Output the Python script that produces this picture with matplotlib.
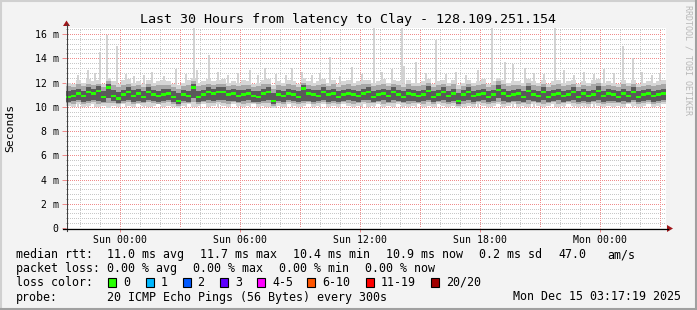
import numpy as np
import matplotlib
matplotlib.use("Agg")
import matplotlib.pyplot as plt
from matplotlib.lines import Line2D
from matplotlib.patches import Polygon, Rectangle

# ---------------- data (ms, 15-minute bins over 30 hours) ----------------
bin_hours = 0.25
median_ms = [
    10.8, 10.9, 11.1, 10.9, 11.2, 11.1, 11.3, 10.8, 11.6, 10.9,
    10.7, 11.0, 11.2, 10.9, 11.1, 10.8, 11.2, 11.0, 10.9, 11.0,
    11.1, 10.8, 10.5, 11.0, 10.9, 11.6, 10.8, 11.0, 11.2, 11.1,
    11.2, 11.2, 11.0, 11.1, 10.9, 11.0, 11.1, 10.9, 10.8, 11.1,
    11.2, 10.5, 11.0, 10.9, 11.1, 11.0, 10.8, 11.5, 11.1, 11.0,
    10.9, 11.2, 11.0, 11.1, 10.8, 11.0, 11.1, 11.0, 10.9, 11.1,
    11.2, 10.8, 11.0, 11.1, 10.9, 11.2, 11.0, 10.8, 11.1, 11.0,
    10.9, 11.0, 11.3, 10.8, 11.0, 11.2, 10.9, 11.1, 10.5, 11.0,
    11.2, 10.9, 11.0, 11.1, 10.8, 11.0, 11.4, 11.1, 10.9, 11.0,
    11.1, 10.8, 11.3, 11.0, 10.9, 11.2, 10.8, 11.0, 11.1, 10.9,
    11.0, 11.2, 10.8, 11.1, 10.9, 11.0, 11.3, 10.9, 11.1, 11.0,
    10.8, 11.1, 10.9, 11.2, 10.8, 11.0, 11.1, 10.9, 11.0, 11.1,
]
outer_lo_ms = [
    10.1, 10.0, 10.2, 10.0, 10.1, 10.2, 10.0, 10.1, 9.9, 10.1,
    10.0, 10.2, 10.1, 10.0, 10.2, 10.1, 10.0, 10.1, 10.2, 10.0,
    10.1, 10.0, 9.9, 10.1, 10.2, 10.0, 10.1, 10.2, 10.0, 10.1,
    10.2, 10.1, 10.0, 10.2, 10.1, 10.0, 10.1, 10.2, 10.0, 10.1,
    10.0, 9.9, 10.1, 10.0, 10.2, 10.1, 10.0, 10.1, 10.2, 10.0,
    10.1, 10.2, 10.0, 10.1, 10.0, 10.2, 10.1, 10.0, 10.1, 10.2,
    10.0, 10.1, 10.2, 10.0, 10.1, 10.0, 10.2, 10.1, 10.0, 10.1,
    10.2, 10.0, 10.1, 10.0, 10.2, 10.1, 10.0, 10.1, 9.9, 10.0,
    10.1, 10.0, 10.2, 10.1, 10.0, 10.1, 10.2, 10.0, 10.1, 10.2,
    10.0, 10.1, 10.0, 10.2, 10.1, 10.0, 10.1, 10.2, 10.0, 10.1,
    10.2, 10.1, 10.0, 10.1, 10.0, 10.2, 10.1, 10.0, 10.1, 10.0,
    10.1, 10.0, 10.2, 10.1, 10.0, 10.1, 10.2, 10.0, 10.1, 10.2,
]
mid_lo_ms = [
    10.3, 10.2, 10.4, 10.2, 10.3, 10.4, 10.2, 10.3, 10.3, 10.3,
    10.2, 10.3, 10.4, 10.2, 10.3, 10.3, 10.4, 10.3, 10.2, 10.3,
    10.4, 10.2, 10.1, 10.3, 10.3, 10.4, 10.2, 10.4, 10.3, 10.3,
    10.4, 10.3, 10.2, 10.4, 10.3, 10.2, 10.3, 10.3, 10.2, 10.3,
    10.3, 10.1, 10.3, 10.2, 10.4, 10.3, 10.2, 10.3, 10.4, 10.2,
    10.3, 10.4, 10.2, 10.3, 10.2, 10.4, 10.3, 10.2, 10.3, 10.4,
    10.3, 10.3, 10.4, 10.2, 10.3, 10.3, 10.4, 10.3, 10.2, 10.3,
    10.3, 10.2, 10.4, 10.2, 10.4, 10.3, 10.2, 10.3, 10.1, 10.2,
    10.3, 10.2, 10.4, 10.3, 10.2, 10.3, 10.4, 10.2, 10.3, 10.4,
    10.2, 10.3, 10.2, 10.4, 10.3, 10.2, 10.3, 10.4, 10.2, 10.3,
    10.4, 10.3, 10.2, 10.3, 10.2, 10.4, 10.3, 10.2, 10.3, 10.3,
    10.3, 10.2, 10.3, 10.4, 10.2, 10.3, 10.4, 10.2, 10.3, 10.4,
]
inner_lo_ms = [
    10.4, 10.5, 10.6, 10.4, 10.5, 10.6, 10.5, 10.4, 10.7, 10.5,
    10.3, 10.5, 10.6, 10.4, 10.5, 10.4, 10.6, 10.5, 10.4, 10.5,
    10.6, 10.4, 10.2, 10.5, 10.4, 10.7, 10.4, 10.5, 10.6, 10.5,
    10.6, 10.6, 10.5, 10.5, 10.4, 10.5, 10.6, 10.4, 10.4, 10.5,
    10.6, 10.2, 10.5, 10.4, 10.6, 10.5, 10.4, 10.5, 10.5, 10.4,
    10.5, 10.6, 10.4, 10.5, 10.4, 10.5, 10.6, 10.5, 10.4, 10.6,
    10.6, 10.4, 10.5, 10.6, 10.4, 10.6, 10.5, 10.4, 10.5, 10.5,
    10.4, 10.5, 10.6, 10.4, 10.5, 10.6, 10.4, 10.5, 10.2, 10.5,
    10.6, 10.4, 10.5, 10.6, 10.4, 10.5, 10.7, 10.5, 10.4, 10.5,
    10.5, 10.4, 10.6, 10.5, 10.4, 10.6, 10.4, 10.5, 10.6, 10.4,
    10.5, 10.6, 10.4, 10.5, 10.4, 10.5, 10.6, 10.4, 10.5, 10.5,
    10.4, 10.5, 10.4, 10.6, 10.4, 10.5, 10.6, 10.4, 10.5, 10.6,
]
inner_hi_ms = [
    11.3, 11.4, 11.5, 11.3, 11.6, 11.5, 11.7, 11.3, 11.9, 11.4,
    11.2, 11.4, 11.6, 11.4, 11.5, 11.3, 11.6, 11.4, 11.3, 11.5,
    11.5, 11.3, 11.1, 11.4, 11.3, 11.9, 11.3, 11.4, 11.6, 11.5,
    11.6, 11.6, 11.4, 11.5, 11.4, 11.4, 11.5, 11.3, 11.3, 11.5,
    11.6, 11.1, 11.4, 11.3, 11.5, 11.4, 11.3, 11.8, 11.5, 11.4,
    11.4, 11.6, 11.4, 11.5, 11.3, 11.4, 11.5, 11.4, 11.3, 11.5,
    11.6, 11.3, 11.4, 11.5, 11.4, 11.6, 11.4, 11.3, 11.5, 11.4,
    11.3, 11.4, 11.7, 11.3, 11.4, 11.6, 11.3, 11.5, 11.1, 11.4,
    11.6, 11.3, 11.4, 11.5, 11.3, 11.4, 11.8, 11.5, 11.3, 11.4,
    11.5, 11.3, 11.7, 11.4, 11.3, 11.6, 11.3, 11.4, 11.5, 11.3,
    11.4, 11.6, 11.3, 11.5, 11.3, 11.4, 11.7, 11.3, 11.5, 11.4,
    11.3, 11.5, 11.3, 11.6, 11.3, 11.4, 11.5, 11.3, 11.4, 11.5,
]
mid_hi_ms = [
    11.7, 11.6, 11.9, 11.7, 11.9, 11.8, 11.9, 11.6, 12.1, 11.8,
    11.6, 11.8, 11.9, 11.7, 11.8, 11.6, 11.9, 11.7, 11.8, 11.8,
    11.8, 11.6, 11.5, 11.7, 11.8, 12.1, 11.7, 11.8, 11.9, 11.8,
    11.9, 11.9, 11.7, 11.8, 11.7, 11.8, 11.8, 11.6, 11.7, 11.9,
    11.9, 11.5, 11.8, 11.7, 11.9, 11.8, 11.6, 12.0, 11.8, 11.7,
    11.8, 11.9, 11.7, 11.9, 11.6, 11.8, 11.9, 11.7, 11.8, 11.9,
    11.9, 11.7, 11.8, 11.9, 11.7, 11.9, 11.8, 11.6, 11.9, 11.7,
    11.7, 11.8, 12.0, 11.6, 11.8, 11.9, 11.7, 11.9, 11.5, 11.7,
    11.9, 11.7, 11.8, 11.9, 11.6, 11.8, 12.1, 11.9, 11.7, 11.8,
    11.8, 11.7, 12.0, 11.8, 11.7, 11.9, 11.6, 11.8, 11.9, 11.7,
    11.8, 11.9, 11.6, 11.8, 11.7, 11.9, 12.0, 11.7, 11.8, 11.7,
    11.6, 11.9, 11.7, 11.9, 11.6, 11.7, 11.8, 11.7, 11.8, 11.9,
]
outer_hi_ms = [
    12.0, 11.9, 12.2, 12.0, 12.3, 12.1, 12.2, 11.9, 12.4, 12.1,
    11.9, 12.2, 12.3, 12.0, 12.1, 11.9, 12.2, 12.0, 12.1, 12.2,
    12.1, 11.9, 11.8, 12.0, 12.2, 12.4, 12.0, 12.1, 12.3, 12.1,
    12.2, 12.3, 12.0, 12.1, 12.0, 12.2, 12.1, 11.9, 12.0, 12.2,
    12.3, 11.8, 12.1, 12.0, 12.2, 12.1, 11.9, 12.4, 12.1, 12.0,
    12.1, 12.3, 12.0, 12.2, 11.9, 12.1, 12.2, 12.0, 12.1, 12.2,
    12.2, 12.0, 12.1, 12.3, 12.0, 12.2, 12.1, 11.9, 12.2, 12.0,
    12.0, 12.1, 12.3, 11.9, 12.1, 12.2, 12.0, 12.2, 11.8, 12.0,
    12.2, 12.0, 12.1, 12.3, 11.9, 12.1, 12.4, 12.2, 12.0, 12.1,
    12.1, 12.0, 12.3, 12.1, 12.0, 12.2, 11.9, 12.1, 12.2, 12.0,
    12.1, 12.2, 11.9, 12.1, 12.0, 12.2, 12.3, 12.0, 12.1, 12.0,
    11.9, 12.2, 12.0, 12.2, 11.9, 12.0, 12.1, 12.0, 12.1, 12.2,
]
# occasional single-ping outliers: hour offset and max rtt (ms)
spike_hours = [0.6, 1.1, 1.45, 1.7, 2.05, 2.55, 3.0, 3.4, 3.9, 4.3, 4.9, 5.5,
               6.0, 6.4, 6.55, 7.15, 7.6, 8.1, 8.6, 9.2, 9.6, 9.95, 10.5,
               11.0, 11.3, 11.8, 12.3, 12.7, 13.2, 13.7, 14.3, 14.8, 15.4,
               15.8, 16.3, 16.8, 16.9, 17.5, 18.0, 18.5, 19.0, 19.5, 20.0,
               20.6, 21.3, 21.95, 22.35, 22.95, 23.4, 23.9, 24.45, 24.9,
               25.4, 25.9, 26.4, 26.9, 27.4, 27.85, 28.35, 28.8, 29.3, 29.7]
spike_tops_ms = [12.6, 13.0, 12.8, 14.5, 15.9, 15.0, 12.7, 12.5, 12.6, 12.9,
                 12.5, 13.1, 12.7, 16.5, 13.0, 14.3, 12.9, 12.6, 12.8, 13.0,
                 12.6, 13.2, 12.7, 12.6, 13.2, 12.9, 12.6, 12.8, 14.1, 12.5,
                 13.3, 12.7, 16.5, 12.9, 13.1, 16.5, 13.4, 13.7, 12.8, 15.5,
                 12.7, 12.9, 12.6, 13.0, 16.5, 13.7, 13.5, 13.2, 12.8, 12.7,
                 16.5, 13.0, 12.6, 12.9, 12.7, 13.1, 12.8, 15.0, 14.0, 12.9,
                 12.6, 12.8]

hour_of_first_midnight = 2.711   # Sun 00:00 relative to graph start (Sat 21:17:19)
tick_labels = ["Sun 00:00", "Sun 06:00", "Sun 12:00", "Sun 18:00", "Mon 00:00"]
y_ticks_ms = [0, 2, 4, 6, 8, 10, 12, 14, 16]

legend_rtt = [("median rtt:", 16), ("11.0 ms avg", 107), ("11.7 ms max", 200),
              ("10.4 ms min", 293), ("10.9 ms now", 386), ("0.2 ms sd", 479),
              ("47.0", 558), ("am/s", 607)]
legend_loss = [("packet loss:", 16), ("0.00 % avg", 107), ("0.00 % max", 193),
               ("0.00 % min", 279), ("0.00 % now", 365)]
loss_labels = ["0", "1", "2", "3", "4-5", "6-10", "11-19", "20/20"]
loss_colors = ["#26ff00", "#00b8ff", "#0059ff", "#5e00ff", "#ff00ff",
               "#ff5500", "#ff0000", "#a10000"]
loss_box_x = [108, 145.5, 182.5, 220, 257, 307, 366, 431]

# ---------------- figure ----------------
W, H = 697, 310
fig = plt.figure(figsize=(W / 100, H / 100), dpi=100)
fig.patch.set_facecolor("#f3f3f3")
MONO = "DejaVu Sans Mono"

def fx(px):
    return px / W

def fy(py):
    return 1 - py / H

ax = fig.add_axes([fx(66), fy(228), 600 / W, 200 / H])
ax.set_facecolor("white")
ax.set_xlim(0, 30)
ax.set_ylim(0, 16.5)

n = len(median_ms)
edges = np.arange(n + 1) * bin_hours

def stepfill(lo, hi, color, z):
    lo_e = np.append(lo, lo[-1])
    hi_e = np.append(hi, hi[-1])
    ax.fill_between(edges, lo_e, hi_e, step="post", color=color, lw=0, zorder=z)

# grid (dotted, crisp)
GRID_MINOR = "#c8c8c8"
GRID_MAJOR = "#f08c8c"
dots = (0, (1, 2))
for v in np.arange(0, 16.5, 0.4):
    ax.axhline(v, color=GRID_MINOR, lw=0.72, ls=dots, antialiased=False, zorder=0.5)
for v in y_ticks_ms:
    ax.axhline(v, color=GRID_MAJOR, lw=0.72, ls=dots, antialiased=False, zorder=0.6)
for h in np.arange(hour_of_first_midnight - 2, 30, 1.0):
    ax.axvline(h, color=GRID_MINOR, lw=0.72, ls=dots, antialiased=False, zorder=0.5)
for h in np.arange(hour_of_first_midnight, 30, 3.0):
    ax.axvline(h, color=GRID_MAJOR, lw=0.72, ls=dots, antialiased=False, zorder=0.6)

# smoke
ax.vlines(spike_hours, 10.0, spike_tops_ms, color="#cbcbcb", lw=1.2, zorder=1)
stepfill(np.array(outer_lo_ms), np.array(outer_hi_ms), "#d6d6d6", 2)
stepfill(np.array(mid_lo_ms), np.array(mid_hi_ms), "#a8a8a8", 2.5)
stepfill(np.array(inner_lo_ms), np.array(inner_hi_ms), "#5a5a5a", 3)

# median (drawn as short thick bars like smokeping)
med = np.array(median_ms)
ax.bar(edges[:-1], 0.2, bottom=med - 0.1, width=bin_hours, align="edge",
       color=loss_colors[0], lw=0, zorder=4)

# axes / ticks
for s in ax.spines.values():
    s.set_visible(False)
ax.set_xticks(hour_of_first_midnight + 6 * np.arange(len(tick_labels)))
ax.set_xticklabels(tick_labels, family=MONO, fontsize=7.1)
ax.set_yticks(y_ticks_ms)
ax.set_yticklabels([("%d m" % v) if v else "0" for v in y_ticks_ms],
                   family=MONO, fontsize=7.1)
ax.tick_params(axis="x", length=3, width=0.72, color=GRID_MAJOR, pad=2.2)
ax.tick_params(axis="y", length=3, width=0.72, color=GRID_MAJOR, pad=2.2)

# axis lines with arrows
fig.add_artist(Line2D([fx(66.5), fx(66.5)], [fy(231), fy(24)], color="#404040", lw=0.8))
fig.add_artist(Line2D([fx(63), fx(668)], [fy(228.5), fy(228.5)], color="black", lw=0.9))
fig.add_artist(Polygon([[fx(63), fy(26)], [fx(70), fy(26)], [fx(66.5), fy(20.5)]],
                       closed=True, color="#a0161a", lw=0))
fig.add_artist(Polygon([[fx(667), fy(225)], [fx(667), fy(232)], [fx(673), fy(228.5)]],
                       closed=True, color="#a0161a", lw=0))

# texts
fig.text(0.5, fy(19), "Last 30 Hours from latency to Clay - 128.109.251.154",
         ha="center", va="center", family=MONO, fontsize=9.6)
fig.text(fx(10), fy(128), "Seconds", rotation=90, ha="center", va="center",
         family=MONO, fontsize=8.2)
fig.text(fx(688), fy(5), "RRDTOOL / TOBI OETIKER", rotation=270, ha="center",
         va="top", family=MONO, fontsize=6.0, color="#b8b8b8")

for txt, x in legend_rtt:
    fig.text(fx(x), fy(254.5), txt, ha="left", va="center", family=MONO, fontsize=8.4)
for txt, x in legend_loss:
    fig.text(fx(x), fy(268.5), txt, ha="left", va="center", family=MONO, fontsize=8.4)
fig.text(fx(16), fy(282), "loss color:", ha="left", va="center", family=MONO, fontsize=8.4)
for lab, col, bx in zip(loss_labels, loss_colors, loss_box_x):
    fig.add_artist(Rectangle((fx(bx), fy(286.5)), 8 / W, 9 / H, facecolor=col,
                             edgecolor="black", lw=0.8))
    fig.text(fx(bx + 15), fy(282), lab, ha="left", va="center", family=MONO, fontsize=8.4)
fig.text(fx(16), fy(297), "probe:", ha="left", va="center", family=MONO, fontsize=8.4)
fig.text(fx(107), fy(297), "20 ICMP Echo Pings (56 Bytes) every 300s", ha="left",
         va="center", family=MONO, fontsize=8.4)
fig.text(fx(681), fy(297), "Mon Dec 15 03:17:19 2025", ha="right", va="center",
         family=MONO, fontsize=8.4)

# 3D-ish frame
fig.add_artist(Line2D([0, 1], [fy(0.5), fy(0.5)], color="#d0d0d0", lw=1.5))
fig.add_artist(Line2D([fx(0.5), fx(0.5)], [0, 1], color="#d0d0d0", lw=1.5))
fig.add_artist(Line2D([0, 1], [fy(309), fy(309)], color="#a0a0a0", lw=1.5))
fig.add_artist(Line2D([fx(696), fx(696)], [0, 1], color="#a0a0a0", lw=1.5))

fig.savefig("out.png", dpi=100, facecolor=fig.get_facecolor())
